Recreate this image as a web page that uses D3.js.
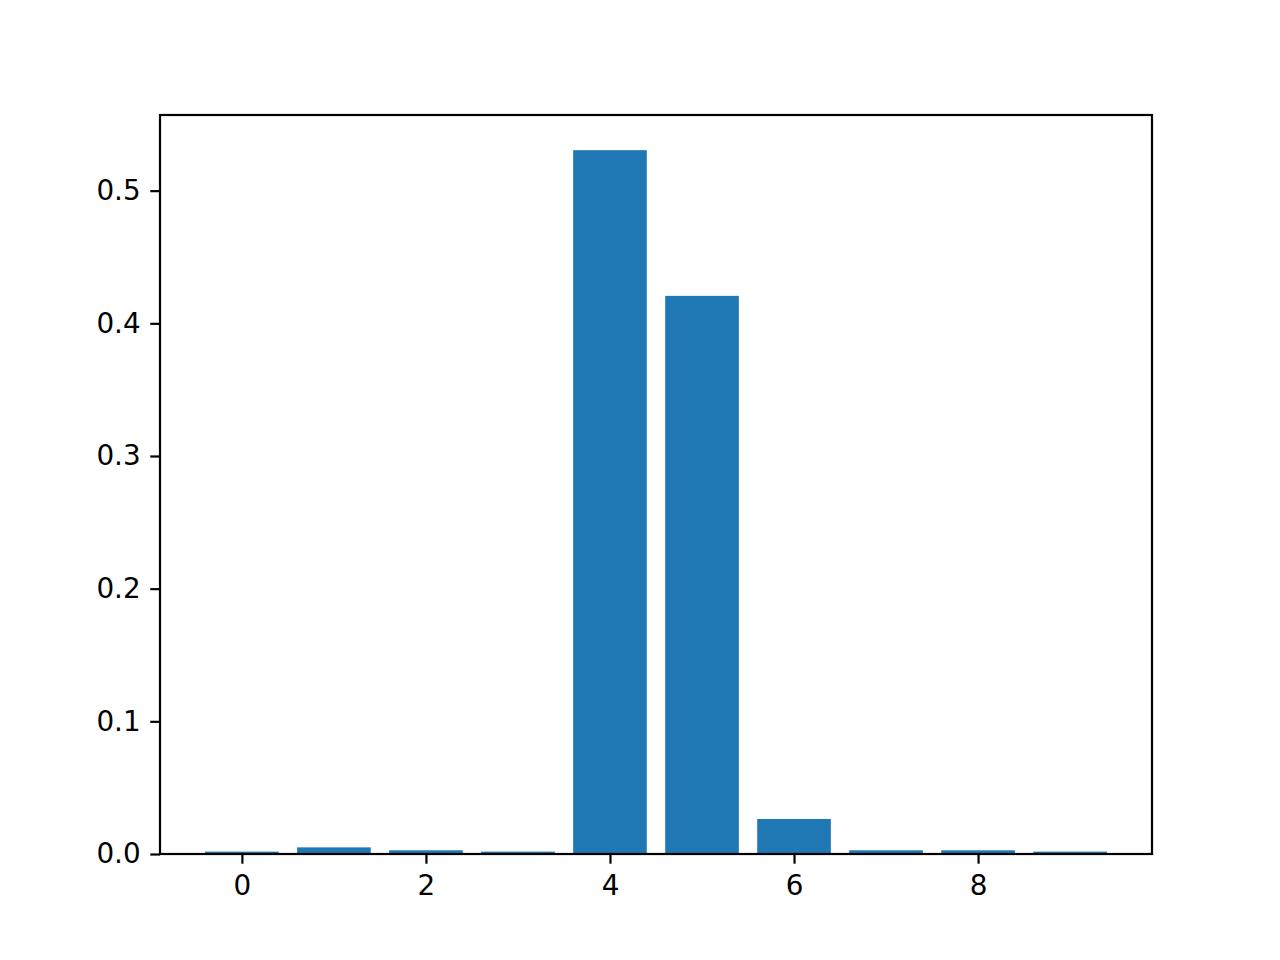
<!DOCTYPE html>
<html>
<head>
<meta charset="utf-8">
<script src="https://cdn.jsdelivr.net/npm/d3@7"></script>
<style>
  body { margin: 0; background: #fff; }
  svg { display: block; }
  .tick text { font-family: "DejaVu Sans", sans-serif; font-size: 27.8px; fill: #000; }
</style>
</head>
<body>
<div id="chart"></div>
<script>
// bar positions and heights
var categories = [0, 1, 2, 3, 4, 5, 6, 7, 8, 9];
var values = [0.0018, 0.005, 0.0028, 0.0018, 0.5305, 0.4207, 0.0264, 0.0028, 0.0028, 0.0018];
var xTicks = [0, 2, 4, 6, 8];
var yTicks = [0.0, 0.1, 0.2, 0.3, 0.4, 0.5];

var width = 1280, height = 960;
var margin = {top: 115, right: 128, bottom: 106, left: 160};
var barWidth = 0.8;

var svg = d3.select("#chart").append("svg")
    .attr("width", width)
    .attr("height", height);

var w = width - margin.left - margin.right,
    h = height - margin.top - margin.bottom;

var g = svg.append("g")
    .attr("transform", "translate(" + margin.left + "," + margin.top + ")");

// matplotlib style 5% margins on x, 5% headroom on y
var xmin = d3.min(categories) - barWidth / 2,
    xmax = d3.max(categories) + barWidth / 2,
    pad = (xmax - xmin) * 0.05;

var x = d3.scaleLinear()
    .domain([xmin - pad, xmax + pad])
    .range([0, w]);

var y = d3.scaleLinear()
    .domain([0, d3.max(values) * 1.05])
    .range([h, 0]);

g.selectAll(".bar")
    .data(categories)
  .enter().append("rect")
    .attr("class", "bar")
    .attr("x", function (d) { return x(d - barWidth / 2); })
    .attr("width", function (d) { return x(d + barWidth / 2) - x(d - barWidth / 2); })
    .attr("y", function (d, i) { return y(values[i]); })
    .attr("height", function (d, i) { return h - y(values[i]); })
    .style("fill", "#1f77b4");

var tickLen = 9.7;

var xaxis = g.append("g")
    .attr("transform", "translate(0," + h + ")")
    .call(d3.axisBottom(x).tickValues(xTicks).tickFormat(d3.format("d"))
      .tickSize(tickLen).tickPadding(12));

var yaxis = g.append("g")
    .call(d3.axisLeft(y).tickValues(yTicks).tickFormat(d3.format(".1f"))
      .tickSize(tickLen).tickPadding(9.7));

[xaxis, yaxis].forEach(function (ax) {
  ax.select(".domain").remove();
  ax.selectAll(".tick line").attr("stroke", "#000").attr("stroke-width", 2.2);
});

// frame
g.append("rect")
    .attr("width", w)
    .attr("height", h)
    .attr("fill", "none")
    .attr("stroke", "#000")
    .attr("stroke-width", 2.2);
</script>
</body>
</html>
